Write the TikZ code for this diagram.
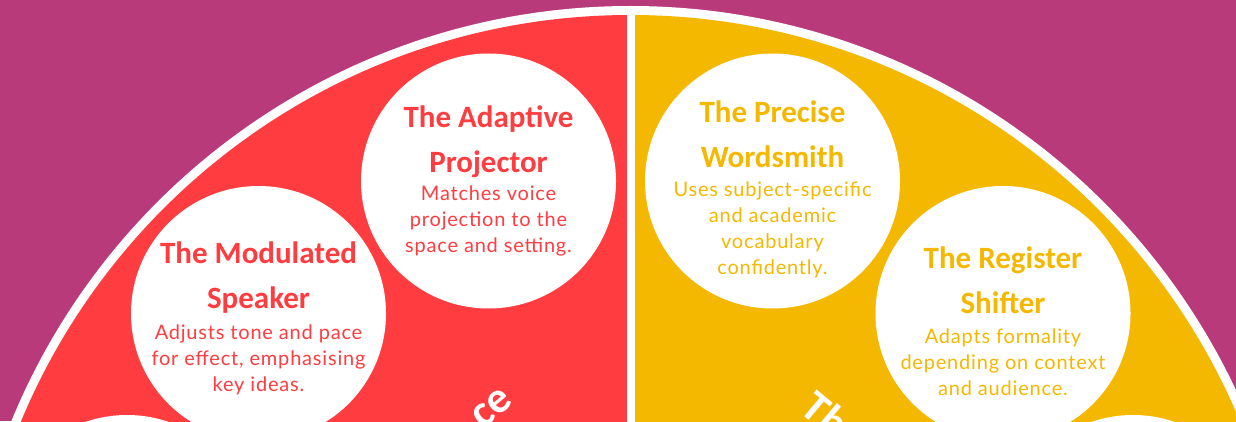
\documentclass[tikz,border=0pt]{standalone}
\usepackage{fontspec}
\setmainfont{Lato}[LetterSpace=4]
\newfontfamily\headfont{Carlito}

\definecolor{plum}{HTML}{B93A7B}
\definecolor{redhalf}{HTML}{FF3D40}
\definecolor{goldhalf}{HTML}{F5B800}

\tikzset{
  bubble/.style={circle, fill=white, minimum size=255pt, inner sep=0pt},
  headline/.style={anchor=north, inner sep=0pt, align=center,
    font={\headfont\bfseries\fontsize{31}{45}\selectfont}},
  blurb/.style={anchor=north, inner sep=0pt, align=center,
    font={\fontsize{20}{26}\selectfont}},
  arcword/.style={text=white, inner sep=0pt,
    font={\headfont\bfseries\fontsize{44}{44}\selectfont}}
}

\begin{document}
\begin{tikzpicture}[x=1pt, y=1pt]
    \useasboundingbox (0,0) rectangle (1236,421);
    \clip (0,0) rectangle (1236,421);
    \fill[plum] (0,0) rectangle (1236,421);

    % the half disc
    \coordinate (hub) at (630.5,-254);
    \fill[white] (hub) circle (669pt);
    \fill[redhalf] (hub) -- ++(90:660pt) arc[start angle=90, end angle=180, radius=660pt] -- cycle;
    \fill[goldhalf] (hub) -- ++(0:660pt) arc[start angle=0, end angle=90, radius=660pt] -- cycle;
    \coordinate (rim) at (630.5,413);
    \draw[white, line width=8pt] (hub) -- (rim);

    % bubbles
    \node[bubble] (modulated) at (258.5,107.5) {};
    \node[bubble] (adaptive)  at (488.5,240)   {};
    \node[bubble] (precise)   at (772.5,240)   {};
    \node[bubble] (register)  at (1003,107.5)  {};
    \node[bubble] (lowleft)   at (127,-121.5)  {};
    \node[bubble] (lowright)  at (1133,-121.5) {};

    % red side
    \node[headline, text=redhalf] (adaptivetitle) at (488.5,315) {The Adaptive\\Projector};
    \node[blurb, text=redhalf] (adaptivetext) at (488.5,235) {Matches voice\\projection to the\\space and setting.};
    \node[headline, text=redhalf] (modulatedtitle) at (258.5,179) {The Modulated\\Speaker};
    \node[blurb, text=redhalf] (modulatedtext) at (258.5,96) {Adjusts tone and pace\\for effect, emphasising\\key ideas.};

    % gold side
    \node[headline, text=goldhalf] (precisetitle) at (772.5,320) {The Precise\\Wordsmith};
    \node[blurb, text=goldhalf] (precisetext) at (772.5,239) {Uses subject-specific\\and academic\\vocabulary\\confidently.};
    \node[headline, text=goldhalf] (registertitle) at (1003,174) {The Register\\Shifter};
    \node[blurb, text=goldhalf] (registertext) at (1003,92) {Adapts formality\\depending on context\\and audience.};

    % words running round the bottom
    \node[arcword, rotate=40] (leftword) at (492,13) {ce};
    \node[arcword, rotate=-40] (rightword) at (826,7) {Th};
\end{tikzpicture}
\end{document}
